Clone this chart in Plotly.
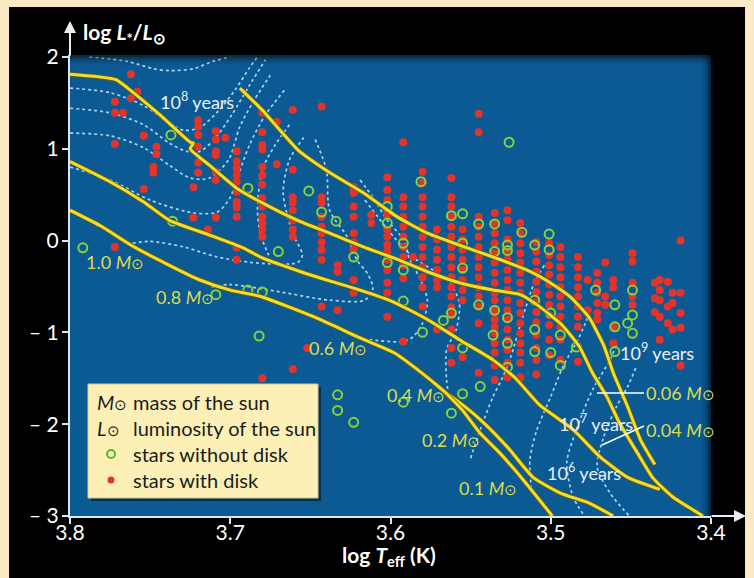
import plotly.graph_objects as go

# ---------------- data ----------------
# stars with disk: columns of (log Teff, [log L values])
red_columns = [
    (3.772, [1.51, 1.39, 1.05, -0.07]),
    (3.767, [1.39]),
    (3.762, [1.81, 1.55]),
    (3.758, [1.62]),
    (3.754, [1.14, 0.56]),
    (3.746, [1.02, 0.94]),
    (3.748, [0.80, 0.74]),
    (3.723, [0.58, 0.25]),
    (3.720, [1.31, 1.24, 1.15, 1.02, 0.85, 0.74]),
    (3.709, [1.19, 1.10, 0.97, 0.93, 0.75, 0.66, 0.25]),
    (3.703, [1.12]),
    (3.714, [0.12]),
    (3.696, [0.97, 0.86, 0.79, 0.71, 0.64, 0.53, 0.42, 0.36, 0.26, -0.08, -0.21]),
    (3.680, [1.39, 1.18, 1.04, 0.99, 0.80, 0.71, 0.61, 0.46, 0.37, 0.26, 0.19, 0.12, 0.04, -1.50]),
    (3.671, [1.29, 0.83]),
    (3.661, [1.42, 0.77, 0.47, 0.41, 0.33, 0.22, 0.12, 0.04, -1.40]),
    (3.652, [-1.17]),
    (3.643, [1.46, 0.47, 0.41, 0.26, 0.15, 0.08, -0.02, -0.10, -0.21, -0.72]),
    (3.633, [-0.27, -0.34, -0.76]),
    (3.623, [0.58, 0.52, 0.37, 0.26, 0.08, -0.02, -0.10, -0.43, -0.57]),
    (3.612, [0.28, 0.19]),
    (3.602, [0.69, 0.55, 0.44, 0.28, 0.12, 0.04, -0.05, -0.12, -0.21, -0.32, -0.46, -0.57, -0.83]),
    (3.592, [1.07, 0.47, 0.37, 0.26, 0.15, 0.04, -0.07, -0.18, -0.27, -0.41, -1.10]),
    (3.586, [-0.18]),
    (3.580, [0.75, 0.63, 0.47, 0.37, 0.26, 0.15, 0.04, -0.07, -0.18, -0.29, -0.40, -0.51, -0.72]),
    (3.571, [0.12, 0.01, -0.10, -0.21, -0.32, -0.43, -0.51, -0.97]),
    (3.562, [0.68, 0.47, 0.37, 0.26, 0.15, 0.04, -0.07, -0.18, -0.29, -0.40, -0.51, -0.61, -0.73, -0.81, -0.97, -1.17, -1.33]),
    (3.555, [0.12, 0.01, -0.10, -0.21, -0.32, -0.43, -0.54, -0.65, -1.27]),
    (3.545, [1.38, 1.18, 0.26, 0.15, 0.04, -0.07, -0.18, -0.29, -0.40, -0.51, -0.61, -0.72, -0.90, -1.44]),
    (3.535, [0.30, 0.19, 0.08, -0.03, -0.14, -0.24, -0.35, -0.46, -0.57, -0.65, -0.76, -0.86, -0.94, -1.01, -1.12, -1.22, -1.36, -1.52]),
    (3.527, [0.33, 0.22, 0.01, -0.10, -0.21, -0.32, -0.43, -0.54, -0.65, -0.76, -0.86, -0.97, -1.08, -1.19, -1.33, -1.49]),
    (3.519, [0.19, 0.08, -0.03, -0.14, -0.24, -0.35, -0.46, -0.57, -0.68, -0.79, -0.90, -1.01, -1.12, -1.22, -1.33, -1.49]),
    (3.509, [-0.02, -0.12, -0.23, -0.34, -0.45, -0.56, -0.67, -0.78, -0.89, -1.03, -1.17, -1.30, -1.46]),
    (3.501, [-0.03, -0.16, -0.27, -0.37, -0.48, -0.59, -0.70, -0.81, -0.92, -1.08, -1.25]),
    (3.494, [-0.07, -0.18, -0.29, -0.40, -0.51, -0.61, -0.72, -0.83, -0.94, -1.08, -1.30]),
    (3.483, [-0.18, -0.29, -0.40, -0.51, -0.61, -0.72, -0.83, -0.94, -1.32]),
    (3.477, [-0.43, -0.76]),
    (3.471, [-0.35, -0.46, -0.57, -0.68, -0.79, -0.86]),
    (3.466, [-0.24, -0.61, -0.70]),
    (3.461, [-0.43, -0.51, -0.94, -1.12]),
    (3.449, [-0.14, -0.23, -0.46, -0.61, -0.70]),
    (3.435, [-0.46, -0.63, -0.78]),
    (3.432, [-0.43, -0.54, -0.65, -0.83, -1.08]),
    (3.427, [-0.45, -0.72, -0.90]),
    (3.424, [-0.57, -0.68, -0.97]),
    (3.419, [0.00, -0.57, -0.79, -0.95, -1.36]),
]

# stars without disk
green_x = [3.737, 3.689, 3.736, 3.792, 3.709, 3.689, 3.682, 3.670, 3.623, 3.602,
           3.592, 3.555, 3.680, 3.592, 3.545, 3.562, 3.567, 3.580, 3.555, 3.544,
           3.555, 3.592, 3.633, 3.633, 3.623, 3.562, 3.651, 3.643, 3.634, 3.602,
           3.602, 3.592, 3.581, 3.562, 3.555, 3.545, 3.535, 3.527, 3.535, 3.555,
           3.526, 3.518, 3.501, 3.527, 3.510, 3.501, 3.510, 3.535, 3.510, 3.536,
           3.527, 3.510, 3.500, 3.527, 3.527, 3.500, 3.494, 3.472, 3.460, 3.449,
           3.449, 3.460, 3.452, 3.449, 3.484, 3.460, 3.494]
green_y = [1.15, 0.57, 0.21, -0.08, -0.59, -0.54, -1.04, -0.12, -0.18, -0.24,
           -0.32, -0.30, -0.56, -0.66, -0.70, -0.79, -0.87, -1.00, -1.17, -1.59,
           -1.67, -1.76, -1.68, -1.85, -1.98, -1.88, 0.54, 0.31, 0.21, 0.37,
           0.19, -0.03, 0.64, 0.27, 0.29, 0.18, 0.18, -0.05, -0.12, -0.03,
           1.07, 0.09, 0.07, -0.11, -0.05, -0.10, -0.65, -0.76, -0.97, -1.03,
           -1.12, -1.21, -1.22, -1.38, -0.84, -0.79, -1.03, -0.54, -0.70, -0.54,
           -0.81, -0.94, -0.90, -1.01, -1.16, -1.21, -1.36]

# evolutionary tracks (yellow)
track_1_x = [3.800, 3.781, 3.771, 3.764, 3.744, 3.725, 3.723, 3.725, 3.713, 3.696, 3.680, 3.658, 3.638, 3.617,
             3.598, 3.577, 3.557, 3.536, 3.519, 3.507, 3.493, 3.482, 3.474, 3.465, 3.457, 3.446, 3.436, 3.424, 3.405]
track_1_y = [1.81, 1.78, 1.75, 1.66, 1.37, 1.07, 1.06, 1.00, 0.82, 0.57, 0.41, 0.22, 0.08, -0.07,
             -0.19, -0.34, -0.46, -0.54, -0.59, -0.72, -0.92, -1.16, -1.44, -1.70, -1.99, -2.31, -2.59, -2.79, -3.00]
track_2_x = [3.694, 3.680, 3.658, 3.638, 3.617, 3.596, 3.577, 3.557, 3.536, 3.515, 3.502, 3.488, 3.476,
             3.467, 3.461, 3.452, 3.444, 3.435]
track_2_y = [1.66, 1.42, 0.99, 0.74, 0.52, 0.26, 0.08, -0.05, -0.18, -0.32, -0.44, -0.61, -0.84,
             -1.14, -1.44, -1.81, -2.17, -2.44]
track_3_x = [3.800, 3.775, 3.754, 3.738, 3.713, 3.692, 3.680, 3.656, 3.638, 3.619, 3.598, 3.577, 3.557,
             3.536, 3.522, 3.507, 3.486, 3.469, 3.452, 3.432]
track_3_y = [0.86, 0.64, 0.42, 0.22, 0.06, -0.08, -0.19, -0.34, -0.44, -0.54, -0.67, -0.86, -1.08,
             -1.30, -1.50, -1.79, -2.06, -2.36, -2.58, -2.71]
track_4_x = [3.800, 3.781, 3.761, 3.738, 3.719, 3.700, 3.681, 3.648, 3.619, 3.598, 3.577, 3.566,
             3.555, 3.544, 3.527, 3.511, 3.494, 3.476, 3.461]
track_4_y = [0.33, 0.16, -0.06, -0.27, -0.43, -0.54, -0.61, -0.83, -1.06, -1.22, -1.49, -1.65,
             -1.79, -1.95, -2.25, -2.58, -2.75, -2.86, -3.00]
track_5_x = [3.566, 3.555, 3.544, 3.532, 3.517, 3.499]
track_5_y = [-1.65, -1.85, -2.10, -2.31, -2.61, -3.00]
tracks = [(track_1_x, track_1_y), (track_2_x, track_2_y), (track_3_x, track_3_y),
          (track_4_x, track_4_y), (track_5_x, track_5_y)]

# isochrones (white dotted)
isochrones = [
    ([3.788, 3.764, 3.748, 3.738, 3.723, 3.711, 3.700], [2.00, 1.95, 1.87, 1.85, 1.87, 1.95, 2.00]),
    ([3.800, 3.775, 3.754, 3.739, 3.729, 3.719, 3.708, 3.697, 3.688, 3.683], [1.66, 1.61, 1.47, 1.29, 1.20, 1.23, 1.40, 1.64, 1.88, 2.00]),
    ([3.800, 3.775, 3.754, 3.738, 3.727, 3.719, 3.710, 3.699, 3.688, 3.678], [1.44, 1.39, 1.26, 1.06, 0.97, 0.97, 1.10, 1.37, 1.69, 1.97]),
    ([3.800, 3.775, 3.754, 3.738, 3.725, 3.713, 3.701, 3.694, 3.685, 3.675], [1.17, 1.14, 1.01, 0.82, 0.68, 0.68, 0.88, 1.24, 1.53, 1.80]),
    ([3.800, 3.775, 3.750, 3.723, 3.708, 3.700, 3.695, 3.688, 3.678, 3.666], [0.80, 0.66, 0.44, 0.30, 0.31, 0.47, 0.71, 1.04, 1.37, 1.64]),
    ([3.761, 3.750, 3.729, 3.708, 3.680, 3.658, 3.655, 3.661, 3.667, 3.663, 3.653], [-0.03, -0.01, -0.07, -0.18, -0.25, -0.24, -0.16, 0.08, 0.52, 0.88, 1.15]),
    ([3.663, 3.672, 3.680, 3.683, 3.681, 3.676], [1.26, 1.04, 0.77, 0.33, 0.06, -0.16]),
    ([3.647, 3.640, 3.638, 3.627, 3.621, 3.614, 3.611, 3.616, 3.638, 3.669, 3.700, 3.713], [1.10, 0.77, 0.33, 0.04, -0.21, -0.37, -0.52, -0.65, -0.65, -0.56, -0.48, -0.51]),
    ([3.619, 3.611, 3.602, 3.592, 3.588, 3.582, 3.577, 3.580, 3.586, 3.592, 3.613], [0.66, 0.47, 0.22, 0.01, -0.21, -0.40, -0.65, -0.90, -1.05, -1.10, -1.08]),
    ([3.616, 3.608, 3.598, 3.586, 3.571, 3.563, 3.557, 3.559, 3.565, 3.565, 3.564], [0.44, 0.26, 0.04, -0.18, -0.35, -0.46, -0.68, -0.97, -1.19, -1.52, -1.65]),
    ([3.504, 3.510, 3.518, 3.525, 3.530, 3.536, 3.544, 3.550], [-0.27, -0.45, -0.86, -1.27, -1.49, -1.70, -2.06, -2.37]),
    ([3.477, 3.483, 3.492, 3.500, 3.509, 3.513, 3.512], [-0.84, -1.08, -1.36, -1.70, -2.08, -2.39, -2.72]),
    ([3.459, 3.463, 3.474, 3.484, 3.490, 3.486, 3.479], [-1.14, -1.30, -1.63, -2.06, -2.42, -2.79, -3.00]),
    ([3.447, 3.452, 3.459, 3.467, 3.471, 3.463, 3.451], [-1.39, -1.59, -1.81, -2.14, -2.47, -2.75, -3.00]),
]

# labels
mass_labels = ["1.0", "0.8", "0.6", "0.4", "0.2", "0.1", "0.06", "0.04"]
mass_label_x = [3.772, 3.728, 3.633, 3.584, 3.562, 3.539, 3.419, 3.419]
mass_label_y = [-0.23, -0.61, -1.17, -1.68, -2.17, -2.69, -1.66, -2.06]
age_labels = ["8", "9", "7", "6"]
age_label_x = [3.721, 3.434, 3.472, 3.479]
age_label_y = [1.52, -1.21, -1.99, -2.52]

x_ticks = [3.8, 3.7, 3.6, 3.5, 3.4]
y_ticks = [-3, -2, -1, 0, 1, 2]
y_tick_text = ["– 3", "– 2", "– 1", "0", "1", "2"]

# ---------------- figure ----------------
FONT = "Lato, 'Open Sans', sans-serif"
YELLOW = "#f2dd2c"
LABEL_YELLOW = "#dcdc4e"
fig = go.Figure()

for ix, iy in isochrones:
    fig.add_trace(go.Scatter(x=ix, y=iy, mode="lines", line=dict(color="rgba(180,218,247,0.95)", width=1.7, dash="3px,3px", shape="spline", smoothing=0.8), hoverinfo="skip", showlegend=False))

red_x = [c[0] for c in red_columns for _ in c[1]]
red_y = [v for c in red_columns for v in c[1]]
fig.add_trace(go.Scatter(x=red_x, y=red_y, mode="markers", marker=dict(symbol="circle", size=8, color="#e3342b", line=dict(width=0)), showlegend=False))
fig.add_trace(go.Scatter(x=green_x, y=green_y, mode="markers", marker=dict(symbol="circle-open", size=9, color="#86d13e", line=dict(width=2, color="#86d13e")), showlegend=False))

for tx, ty in tracks:
    fig.add_trace(go.Scatter(x=tx, y=ty, mode="lines", line=dict(color="#6b5d08", width=4.6, shape="spline", smoothing=0.5), hoverinfo="skip", showlegend=False))
    fig.add_trace(go.Scatter(x=tx, y=ty, mode="lines", line=dict(color=YELLOW, width=3, shape="spline", smoothing=0.5), hoverinfo="skip", showlegend=False))

annotations = []
for t, x, y in zip(mass_labels, mass_label_x, mass_label_y):
    annotations.append(dict(x=x, y=y, xref="x", yref="y", showarrow=False, xanchor="center", yanchor="middle",
                            text=f"{t} <i>M</i><span style='font-size:15px'>⊙</span>",
                            font=dict(family=FONT, size=18, color=LABEL_YELLOW)))
for t, x, y in zip(age_labels, age_label_x, age_label_y):
    annotations.append(dict(x=x, y=y, xref="x", yref="y", showarrow=False, xanchor="center", yanchor="middle",
                            text=f"10<sup>{t}</sup> years",
                            font=dict(family=FONT, size=18, color="#e8f0f8")))

W, H, L, R, T, B = 754, 578, 70, 43, 55, 62
PW, PH = W - L - R, H - T - B
def px(xp):
    return (xp - L) / PW
def py(yp):
    return (H - B - yp) / PH

# axis titles
annotations.append(dict(x=px(81), y=py(33), xref="paper", yref="paper", xanchor="left", yanchor="middle", showarrow=False,
                        text="<b>log <i>L</i><sub>*</sub>/<i>L</i><sub>⊙</sub></b>", font=dict(family=FONT, size=21, color="white")))
annotations.append(dict(x=px(389), y=py(556), xref="paper", yref="paper", xanchor="center", yanchor="middle", showarrow=False,
                        text="<b>log <i>T</i><sub>eff</sub> (K)</b>", font=dict(family=FONT, size=21, color="white")))
# axis arrows
annotations.append(dict(x=px(70), y=py(21), xref="paper", yref="paper", ax=0, ay=36, text="", showarrow=True,
                        arrowhead=2, arrowsize=1.2, arrowwidth=2, arrowcolor="#e6eef5"))
annotations.append(dict(x=px(746), y=py(516), xref="paper", yref="paper", ax=-36, ay=0, text="", showarrow=True,
                        arrowhead=2, arrowsize=1.2, arrowwidth=2, arrowcolor="#e6eef5"))
# legend text
LEG_FONT = dict(family=FONT, size=20, color="#1c1c1c")
leg_rows = [402, 428, 454, 480]
annotations.append(dict(x=px(95), y=py(leg_rows[0]), xref="paper", yref="paper", xanchor="left", yanchor="middle", showarrow=False,
                        text="<i>M</i><span style='font-size:15px'>⊙</span>", font=LEG_FONT))
annotations.append(dict(x=px(95), y=py(leg_rows[1]), xref="paper", yref="paper", xanchor="left", yanchor="middle", showarrow=False,
                        text="<i>L</i><span style='font-size:15px'>⊙</span>", font=LEG_FONT))
for t, r in zip(["mass of the sun", "luminosity of the sun", "stars without disk", "stars with disk"], leg_rows):
    annotations.append(dict(x=px(131), y=py(r), xref="paper", yref="paper", xanchor="left", yanchor="middle", showarrow=False, text=t, font=LEG_FONT))

shapes = []
CREAM = "#fce9c6"
# cream frame around black panel
shapes.append(dict(type="rect", xref="paper", yref="paper", x0=px(0), x1=px(9), y0=py(H), y1=py(0), fillcolor=CREAM, line=dict(width=0), layer="below"))
shapes.append(dict(type="rect", xref="paper", yref="paper", x0=px(745), x1=px(W), y0=py(H), y1=py(0), fillcolor=CREAM, line=dict(width=0), layer="below"))
shapes.append(dict(type="rect", xref="paper", yref="paper", x0=px(0), x1=px(W), y0=py(7), y1=py(0), fillcolor=CREAM, line=dict(width=0), layer="below"))
# vignette top / right
for i, op in enumerate([0.55, 0.35, 0.2, 0.1, 0.05]):
    shapes.append(dict(type="rect", xref="paper", yref="paper", x0=0, x1=1, y0=py(T + 2 * i + 2), y1=py(T + 2 * i), fillcolor="black", opacity=op, line=dict(width=0), layer="above"))
    shapes.append(dict(type="rect", xref="paper", yref="paper", x0=px(W - R - 2 * i - 2), x1=px(W - R - 2 * i), y0=0, y1=1, fillcolor="black", opacity=op, line=dict(width=0), layer="above"))
# pointer lines for 0.06 / 0.04
shapes.append(dict(type="line", xref="paper", yref="paper", x0=px(597), y0=py(393), x1=px(644), y1=py(393), line=dict(color="white", width=1.6)))
shapes.append(dict(type="line", xref="paper", yref="paper", x0=px(602), y0=py(445), x1=px(644), y1=py(426), line=dict(color="white", width=1.6)))
# legend box
shapes.append(dict(type="rect", xref="paper", yref="paper", x0=px(91), x1=px(321), y0=py(501), y1=py(387), fillcolor="rgba(0,0,0,0.45)", line=dict(width=0), layer="above"))
shapes.append(dict(type="rect", xref="paper", yref="paper", x0=px(88), x1=px(318), y0=py(498), y1=py(384), fillcolor="#fcf0b6", line=dict(color="#d8c890", width=1), layer="above"))
shapes.append(dict(type="circle", xref="paper", yref="paper", x0=px(107), x1=px(115), y0=py(458), y1=py(450), line=dict(color="#62b530", width=2), fillcolor="rgba(0,0,0,0)", layer="above"))
shapes.append(dict(type="circle", xref="paper", yref="paper", x0=px(107.5), x1=px(114.5), y0=py(483.5), y1=py(476.5), line=dict(width=0), fillcolor="#e3342b", layer="above"))

axis_common = dict(showgrid=False, zeroline=False, showline=True, linecolor="#dbe5ee", linewidth=2,
                   ticks="outside", ticklen=6, tickwidth=2, tickcolor="#dbe5ee",
                   tickfont=dict(family=FONT, size=21, color="white"))
fig.update_layout(
    width=W, height=H, autosize=False,
    margin=dict(l=L, r=R, t=T, b=B, pad=0),
    paper_bgcolor="black", plot_bgcolor="#0c5a94",
    xaxis=dict(range=[3.8, 3.4], tickvals=x_ticks, ticktext=[f"{v:.1f}" for v in x_ticks], ticklabelstandoff=-9, **axis_common),
    yaxis=dict(range=[-3, 2.02], tickvals=y_ticks, ticktext=y_tick_text, ticklabelstandoff=-1, **axis_common),
    annotations=annotations, shapes=shapes, showlegend=False,
)
fig.write_html("out.html")
